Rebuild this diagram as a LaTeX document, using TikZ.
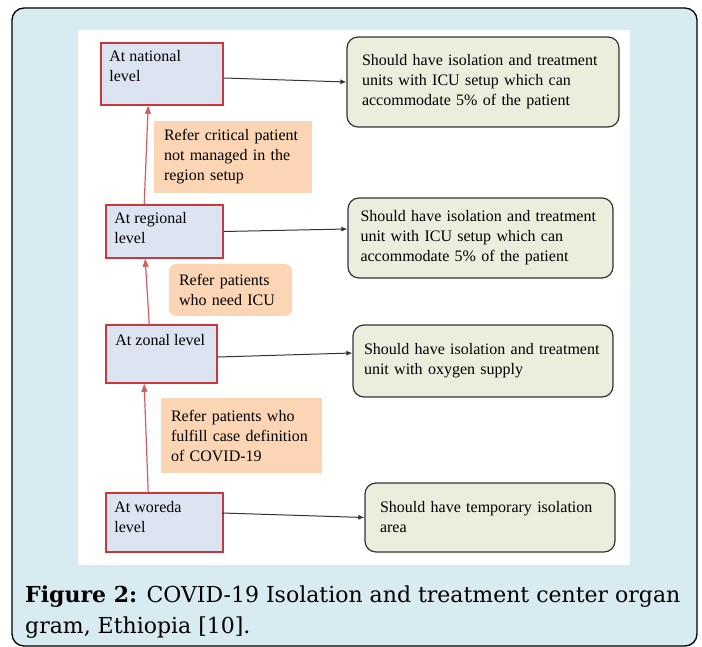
\documentclass[tikz,border=0pt]{standalone}
\usepackage{fontspec}
\setmainfont{Liberation Serif}
\newfontfamily\capfont{DejaVu Serif}
\usetikzlibrary{arrows.meta,positioning,backgrounds}
\definecolor{panel}{HTML}{D8EBF0}
\definecolor{lvlblue}{HTML}{DCE4F1}
\definecolor{lvlred}{HTML}{C9383A}
\definecolor{refred}{HTML}{D0605E}
\definecolor{peach}{HTML}{FCD5B5}
\definecolor{olive}{HTML}{EBEEDD}
\definecolor{ink}{HTML}{333333}

\begin{document}
\begin{tikzpicture}[x=1pt,y=-1pt,>=Stealth]
      \tikzset{
        lvl/.style={rectangle,draw=lvlred,fill=lvlblue,line width=1.6pt},
        lvltxt/.style={anchor=north west,inner sep=0pt,align=left,
            font=\fontsize{16}{20}\selectfont},
        note/.style={rectangle,fill=peach,inner xsep=10pt,align=left,
            font=\fontsize{16}{20}\selectfont},
        need/.style={rectangle,rounded corners=11pt,draw=ink,fill=olive,line width=1.2pt,
            inner xsep=0pt,align=left,font=\fontsize{16}{20}\selectfont},
        link/.style={-{Latex[length=6pt,width=5pt]},draw=ink,line width=1pt},
        refer/.style={-{Triangle[length=8pt,width=6pt]},draw=refred,line width=1.2pt}
      }
      \useasboundingbox (0,0) rectangle (702,647);
      \draw[fill=panel,line width=1.3pt,rounded corners=12pt] (12,8) rectangle (697,646);
      \fill[white] (78,30) rectangle (630,565);

      % levels
      \node[lvl,minimum width=122pt,minimum height=62pt] (nat) at (162,74) {};
      \node[lvl,minimum width=117pt,minimum height=53pt] (reg) at (164.5,231.5) {};
      \node[lvl,minimum width=111pt,minimum height=58pt] (zon) at (161.5,354) {};
      \node[lvl,minimum width=117pt,minimum height=59pt] (wor) at (164.5,522.5) {};
      \node[lvltxt] (natt) at ([shift={(9,8)}]nat.north west) {At national\\level};
      \node[lvltxt] (regt) at ([shift={(9,8)}]reg.north west) {At regional\\level};
      \node[lvltxt] (zont) at ([shift={(10,10)}]zon.north west) {At zonal level};
      \node[lvltxt] (wort) at ([shift={(9,9)}]wor.north west) {At woreda\\level};

      % referral notes
      \node[note,text width=138pt,minimum height=72pt] (ref1) at (233,157)
        {Refer critical patient\\not managed in the\\region setup};
      \node[note,rounded corners=7pt,text width=103pt,minimum height=52pt] (ref2) at (230.5,290)
        {Refer patients\\who need ICU};
      \node[note,text width=141pt,minimum height=75pt] (ref3) at (241.5,435.5)
        {Refer patients who\\fulfill case definition\\of COVID-19};

      % requirements
      \node[need,text width=242pt,minimum width=272pt,minimum height=90pt] (nnat) at (483,82)
        {Should have isolation and treatment\\units with ICU setup which can\\accommodate 5\% of the patient};
      \node[need,text width=240pt,minimum width=265pt,minimum height=80pt] (nreg) at (480.5,238)
        {Should have isolation and treatment\\unit with ICU setup which can\\accommodate 5\% of the patient};
      \node[need,text width=238pt,minimum width=260pt,minimum height=72pt] (nzon) at (483,361)
        {Should have isolation and treatment\\unit with oxygen supply\\[8pt]};
      \node[need,text width=220pt,minimum width=250pt,minimum height=69pt] (nwor) at (490,517.5)
        {Should have temporary isolation\\area\\[6pt]};

      \draw[link] ([shift={(0,4)}]nat.east)--(nnat.west);
      \draw[link] (reg.east)--([shift={(0,-9)}]nreg.west);
      \draw[link] ([shift={(0,3)}]zon.east)--([shift={(0,-8)}]nzon.west);
      \draw[link] ([shift={(-2,-9.5)}]wor.east)--(nwor.west);

      \draw[refer] ([shift={(39,0)}]reg.north west)--([shift={(48,0)}]nat.south west);
      \draw[refer] ([shift={(44,0)}]zon.north west)--([shift={(40,0)}]reg.south west);
      \draw[refer] ([shift={(43,0)}]wor.north west)--([shift={(39,0)}]zon.south west);

      \node[font=\capfont\fontsize{22}{31}\selectfont,anchor=base west,align=left,inner sep=0pt]
        (cap) at (25,633) {\textbf{Figure 2:} COVID-19 Isolation and treatment center organ\\gram, Ethiopia [10].};
\end{tikzpicture}
\end{document}
